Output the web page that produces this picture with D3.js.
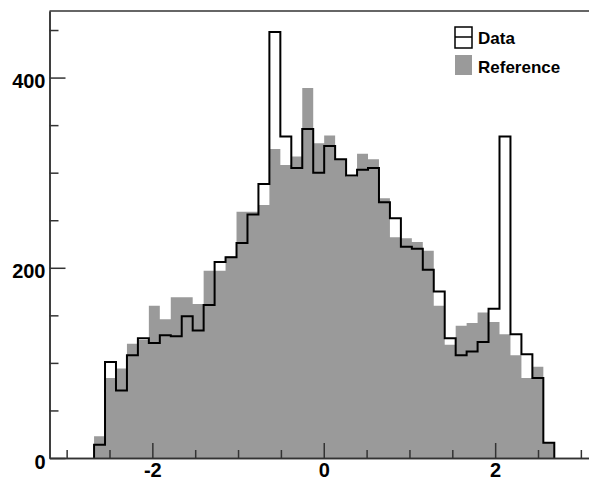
<!DOCTYPE html>
<html>
<head>
<meta charset="utf-8">
<script src="https://cdn.jsdelivr.net/npm/d3@7"></script>
<style>
  body { margin: 0; background: #fff; }
  svg text { font-family: "Liberation Sans", Arial, sans-serif; font-weight: bold; }
</style>
</head>
<body>
<svg id="chart"></svg>
<script>
const WIDTH = 589;
const HEIGHT = 478;

// Datos (42 bins).
const BIN_LO = -2.68;
const BIN_HI = 2.69;

const reference = [23, 84, 94, 120, 124, 160, 146, 169, 169, 162,
                   197, 197, 212, 259, 259, 266, 325, 308, 317, 389,
                   331, 339, 314, 296, 320, 314, 273, 232, 231, 227,
                   218, 160, 119, 139, 142, 153, 143, 130, 108, 84,
                   96, 16];

const data_vals = [14, 101, 71, 108, 126, 121, 129, 128, 149, 134,
                   161, 206, 211, 226, 256, 288, 448, 338, 305, 346,
                   300, 328, 314, 297, 303, 305, 269, 252, 222, 220,
                   198, 175, 126, 108, 112, 122, 157, 338, 130, 109,
                   84, 16];

const x_major = [-2, 0, 2];
const x_minor = [-3, -2.5, -1.5, -1, -0.5, 0.5, 1, 1.5, 2.5, 3];
const y_major = [0, 200, 400];
const y_minor = [50, 100, 150, 250, 300, 350, 450];

const legend_labels = ["Data", "Reference"];

const GRAY = "#9a9a9a";
const AXIS_COLOR = "#333";

const svg = d3.select("svg#chart")
    .attr("width", WIDTH)
    .attr("height", HEIGHT);

const x = d3.scaleLinear().domain([-3.2, 3.2]).range([49.5, 598]);
const y = d3.scaleLinear().domain([0, 470]).range([458, 11]);

const n = reference.length;
const bw = (BIN_HI - BIN_LO) / n;
const edge = (i) => BIN_LO + i * bw;

// Histograma como escalera.
const stepPoints = (vals) => {
    const pts = [[edge(0), 0]];
    vals.forEach((v, i) => {
        pts.push([edge(i), v]);
        pts.push([edge(i + 1), v]);
    });
    pts.push([edge(n), 0]);
    return pts;
};

const line = d3.line().x(d => x(d[0])).y(d => y(d[1]));

svg.append("path")
    .attr("d", line(stepPoints(reference)) + "Z")
    .attr("fill", GRAY)
    .attr("stroke", "none");

svg.append("path")
    .attr("d", line(stepPoints(data_vals)))
    .attr("fill", "none")
    .attr("stroke", "#000")
    .attr("stroke-width", 2);

// Marco.
svg.append("line")
    .attr("x1", x(-3.2)).attr("x2", x(3.2))
    .attr("y1", y(470)).attr("y2", y(470))
    .attr("stroke", AXIS_COLOR).attr("stroke-width", 1.5);

// Ejes.
const xAxis = svg.append("g").attr("transform", `translate(0, ${y(0)})`)
    .call(d3.axisBottom(x).tickValues(x_major).tickSizeInner(-15).tickSizeOuter(0)
        .tickPadding(5).tickFormat(d => String(d)));

const xMinor = svg.append("g").attr("transform", `translate(0, ${y(0)})`)
    .call(d3.axisBottom(x).tickValues(x_minor).tickSizeInner(-8).tickSizeOuter(0)
        .tickFormat(""));

const yAxis = svg.append("g").attr("transform", `translate(${x(-3.2)}, 0)`)
    .call(d3.axisLeft(y).tickValues(y_major).tickSizeInner(-16).tickSizeOuter(0)
        .tickPadding(4).tickFormat(d => String(d)));

const yMinor = svg.append("g").attr("transform", `translate(${x(-3.2)}, 0)`)
    .call(d3.axisLeft(y).tickValues(y_minor).tickSizeInner(-9).tickSizeOuter(0)
        .tickFormat(""));

[xAxis, xMinor, yAxis, yMinor].forEach(g => {
    g.selectAll("path.domain").attr("stroke", AXIS_COLOR).attr("stroke-width", 1.5);
    g.selectAll(".tick line").attr("stroke", AXIS_COLOR).attr("stroke-width", 1.5);
    g.selectAll("text").attr("fill", "#000").style("font-size", "20px");
});
yAxis.selectAll("text").attr("dy", "0.5em");

// Leyenda.
const legend = svg.append("g").attr("transform", "translate(455, 27)");

legend.append("rect")
    .attr("x", 0).attr("y", 0).attr("width", 17).attr("height", 21)
    .attr("fill", "none").attr("stroke", "#000").attr("stroke-width", 1.5);
legend.append("line")
    .attr("x1", 0).attr("x2", 17).attr("y1", 10).attr("y2", 10)
    .attr("stroke", "#000").attr("stroke-width", 1.5);
legend.append("rect")
    .attr("x", 0).attr("y", 28).attr("width", 17).attr("height", 20)
    .attr("fill", GRAY);

legend.selectAll("text.leg")
    .data(legend_labels)
    .join("text")
    .attr("class", "leg")
    .attr("x", 23)
    .attr("y", (d, i) => 16.5 + i * 29.5)
    .style("font-size", "17px")
    .text(d => d);
</script>
</body>
</html>
